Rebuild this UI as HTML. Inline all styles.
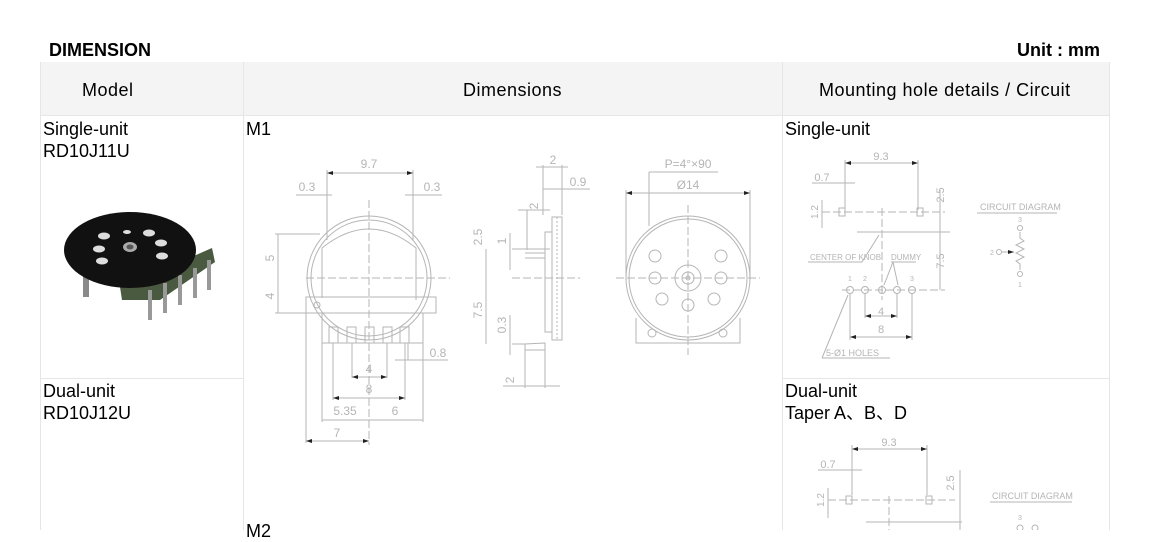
<!DOCTYPE html>
<html><head><meta charset="utf-8"><style>
body{margin:0;background:#fff;width:1150px;height:530px;overflow:hidden;position:relative;font-family:"Liberation Sans","Noto Sans CJK SC",sans-serif;}
.t{position:absolute;font-size:18px;color:#000;line-height:22px;}
.h{letter-spacing:0.5px;}
svg{position:absolute;left:0;top:0;}
</style></head><body>
<svg width="1150" height="530" viewBox="0 0 1150 530">
<defs><marker id="a" markerWidth="6" markerHeight="4" refX="6" refY="2" orient="auto-start-reverse"><path d="M0,0 L6,2 L0,4 Z" fill="#222"/></marker></defs>
<rect x="40" y="62" width="1069" height="53" fill="#f4f4f4"/>
<g stroke="#e6e6e6" stroke-width="1" fill="none">
<line x1="40.5" y1="62" x2="40.5" y2="530"/>
<line x1="243.5" y1="62" x2="243.5" y2="530"/>
<line x1="782.5" y1="62" x2="782.5" y2="530"/>
<line x1="1109.5" y1="62" x2="1109.5" y2="530"/>
<line x1="40" y1="115.5" x2="1109" y2="115.5"/>
<line x1="40" y1="378.5" x2="243" y2="378.5"/>
<line x1="782" y1="378.5" x2="1109" y2="378.5"/>
</g>
<g>
<rect x="83" y="265" width="6" height="32" fill="#8a8a8a"/>
<polygon points="120,287 180,262 212,248 215,262 160,300 122,300" fill="#4a5a40"/>
<g fill="#999">
<rect x="148" y="290" width="4" height="30"/><rect x="163" y="283" width="4" height="30"/><rect x="178" y="275" width="4" height="30"/><rect x="193" y="268" width="4" height="30"/><rect x="207" y="260" width="4" height="30"/>
</g>
<ellipse cx="130" cy="250" rx="66" ry="38" fill="#111"/>
<g fill="#ddd"><ellipse cx="104" cy="236" rx="6" ry="3.5"/><ellipse cx="149" cy="233" rx="6" ry="3.5"/><ellipse cx="99" cy="249" rx="6" ry="3.5"/><ellipse cx="161" cy="243" rx="6" ry="3.5"/><ellipse cx="102" cy="261" rx="6" ry="3.5"/><ellipse cx="162" cy="256" rx="6" ry="3.5"/><ellipse cx="127" cy="232" rx="4" ry="2"/></g>
<ellipse cx="130" cy="247" rx="7" ry="5" fill="#aaa"/><ellipse cx="130" cy="247" rx="3.5" ry="2.5" fill="#555"/>
</g>
<g stroke="#b5b5b5" stroke-width="1" fill="none">
<circle cx="369" cy="278" r="62"/>
<circle cx="369" cy="278" r="58"/>
<path d="M322,298 L322,248 Q369,210 416,248 L416,300"/>
<rect x="306" y="297" width="130" height="16"/>
<rect x="322" y="313" width="101" height="30"/>
<rect x="329" y="327" width="9" height="16"/><rect x="347" y="327" width="9" height="16"/><rect x="365" y="327" width="9" height="16"/><rect x="383" y="327" width="9" height="16"/><rect x="400" y="327" width="9" height="16"/>
<circle cx="317" cy="305" r="3"/>
<line x1="306" y1="278" x2="450" y2="278" stroke-dasharray="8,3"/>
<line x1="369" y1="200" x2="369" y2="445" stroke-dasharray="8,3"/>
<line x1="327" y1="170" x2="327" y2="240"/><line x1="413" y1="170" x2="413" y2="240"/>
<line x1="327" y1="173" x2="413" y2="173" marker-start="url(#a)" marker-end="url(#a)"/>
<line x1="296" y1="195" x2="332" y2="195"/><line x1="405" y1="195" x2="442" y2="195"/>
<line x1="275" y1="234" x2="320" y2="234"/><line x1="275" y1="313" x2="306" y2="313"/>
<line x1="278" y1="234" x2="278" y2="313"/>
<line x1="333" y1="343" x2="333" y2="400"/><line x1="352" y1="343" x2="352" y2="378"/><line x1="387" y1="343" x2="387" y2="378"/><line x1="405" y1="343" x2="405" y2="400"/>
<line x1="352" y1="377" x2="387" y2="377" marker-start="url(#a)" marker-end="url(#a)"/><line x1="333" y1="398" x2="405" y2="398" marker-start="url(#a)" marker-end="url(#a)"/>
<line x1="322" y1="343" x2="322" y2="422"/><line x1="423" y1="343" x2="423" y2="422"/><line x1="306" y1="313" x2="306" y2="443"/>
<line x1="322" y1="420" x2="423" y2="420"/><line x1="306" y1="441" x2="369" y2="441" marker-start="url(#a)" marker-end="url(#a)"/>
<line x1="395" y1="360" x2="448" y2="360"/><line x1="408" y1="343" x2="408" y2="360"/>
<rect x="552" y="217" width="10" height="123"/>
<line x1="557" y1="217" x2="557" y2="340" stroke-dasharray="2,2"/>
<rect x="545" y="232" width="7" height="100"/>
<path d="M545,343 L525,344 L525,350 L545,350 Z"/>
<line x1="525" y1="253" x2="545" y2="253"/><line x1="525" y1="258" x2="545" y2="258"/>
<line x1="512" y1="249" x2="550" y2="249"/><line x1="512" y1="278" x2="580" y2="278" stroke-dasharray="8,3"/>
<line x1="512" y1="344" x2="525" y2="344"/>
<line x1="486" y1="249" x2="486" y2="344"/>
<line x1="510" y1="233" x2="510" y2="270"/><line x1="510" y1="315" x2="510" y2="355"/>
<line x1="543" y1="165" x2="543" y2="215"/><line x1="562" y1="165" x2="562" y2="215"/><line x1="527" y1="210" x2="527" y2="250"/>
<line x1="536" y1="167" x2="568" y2="167"/><line x1="543" y1="189" x2="590" y2="189"/><line x1="518" y1="210" x2="550" y2="210"/>
<line x1="525" y1="350" x2="525" y2="388"/><line x1="545" y1="350" x2="545" y2="388"/><line x1="503" y1="386" x2="560" y2="386"/>
<circle cx="688" cy="278" r="62"/>
<circle cx="688" cy="278" r="59"/>
<circle cx="688" cy="278" r="13"/><circle cx="688" cy="278" r="6"/><circle cx="688" cy="278" r="2"/>
<circle cx="655" cy="256" r="6"/><circle cx="721" cy="256" r="6"/><circle cx="655" cy="278" r="6"/><circle cx="721" cy="278" r="6"/><circle cx="662" cy="299" r="6"/><circle cx="688" cy="305" r="6"/><circle cx="714" cy="299" r="6"/>
<path d="M636,318 L636,343 L740,343 L740,318"/>
<circle cx="652" cy="333" r="4"/><circle cx="723" cy="333" r="4"/>
<line x1="616" y1="278" x2="760" y2="278" stroke-dasharray="8,3"/>
<line x1="688" y1="205" x2="688" y2="355" stroke-dasharray="8,3"/>
<line x1="626" y1="190" x2="626" y2="280"/><line x1="750" y1="190" x2="750" y2="280"/>
<line x1="626" y1="193" x2="750" y2="193" marker-start="url(#a)" marker-end="url(#a)"/>
<line x1="649" y1="172" x2="718" y2="172"/><line x1="649" y1="172" x2="649" y2="226"/>
<line x1="845" y1="160" x2="845" y2="210"/><line x1="918" y1="160" x2="918" y2="210"/>
<line x1="845" y1="163" x2="918" y2="163" marker-start="url(#a)" marker-end="url(#a)"/><line x1="812" y1="183" x2="855" y2="183"/>
<rect x="839" y="208" width="6" height="8"/><rect x="917" y="208" width="6" height="8"/>
<line x1="822" y1="212" x2="945" y2="212" stroke-dasharray="8,3"/>
<line x1="822" y1="200" x2="822" y2="228"/>
<line x1="882" y1="208" x2="882" y2="300" stroke-dasharray="8,3"/>
<line x1="857" y1="232" x2="950" y2="232"/>
<line x1="940" y1="190" x2="940" y2="290"/>
<line x1="842" y1="290" x2="945" y2="290" stroke-dasharray="8,3"/>
<circle cx="850" cy="290" r="3.5"/><circle cx="865" cy="290" r="3.5"/><circle cx="882" cy="290" r="3.5"/><circle cx="897" cy="290" r="3.5"/><circle cx="912" cy="290" r="3.5"/>
<line x1="850" y1="294" x2="850" y2="340"/><line x1="865" y1="294" x2="865" y2="318"/><line x1="897" y1="294" x2="897" y2="318"/><line x1="912" y1="294" x2="912" y2="340"/>
<line x1="865" y1="316" x2="897" y2="316" marker-start="url(#a)" marker-end="url(#a)"/><line x1="850" y1="337" x2="912" y2="337" marker-start="url(#a)" marker-end="url(#a)"/>
<path d="M808,262 L862,262 L879,235"/><path d="M891,262 L916,262 M893,262 L884,285 M893,262 L898,285"/>
<path d="M822,358 L890,358 M822,358 L848,295"/>
<line x1="977" y1="213" x2="1057" y2="213"/>
<path d="M1020,232 L1020,238 L1024,241 L1016,245 L1024,249 L1016,253 L1024,257 L1016,261 L1020,264 L1020,270"/>
<circle cx="1020" cy="228" r="2.5"/><circle cx="1020" cy="274" r="2.5"/><circle cx="999" cy="252" r="2.5"/>
<line x1="1002" y1="252" x2="1014" y2="252" marker-end="url(#a)"/>
<line x1="852" y1="445" x2="852" y2="495"/><line x1="927" y1="445" x2="927" y2="495"/>
<line x1="852" y1="449" x2="927" y2="449" marker-start="url(#a)" marker-end="url(#a)"/><line x1="818" y1="470" x2="862" y2="470"/>
<rect x="846" y="496" width="6" height="8"/><rect x="926" y="496" width="6" height="8"/>
<line x1="828" y1="500" x2="955" y2="500" stroke-dasharray="8,3"/>
<line x1="828" y1="488" x2="828" y2="518"/>
<line x1="889" y1="496" x2="889" y2="530" stroke-dasharray="8,3"/>
<line x1="960" y1="470" x2="960" y2="530"/>
<line x1="866" y1="522" x2="962" y2="522"/>
<line x1="990" y1="502" x2="1072" y2="502"/>
<circle cx="1020" cy="528" r="3"/><circle cx="1035" cy="528" r="3"/>
</g>
<g fill="#b5b5b5" font-family="Liberation Sans, sans-serif" font-size="12">
<text x="369" y="168" text-anchor="middle">9.7</text>
<text x="307" y="191" text-anchor="middle">0.3</text><text x="432" y="191" text-anchor="middle">0.3</text>
<text x="274" y="258" transform="rotate(-90 274 258)" text-anchor="middle">5</text>
<text x="274" y="296" transform="rotate(-90 274 296)" text-anchor="middle">4</text>
<text x="438" y="357" text-anchor="middle">0.8</text>
<text x="369" y="373" text-anchor="middle">4</text><text x="369" y="393" text-anchor="middle">8</text>
<text x="345" y="415" text-anchor="middle">5.35</text><text x="395" y="415" text-anchor="middle">6</text>
<text x="337" y="437" text-anchor="middle">7</text>
<text x="553" y="164" text-anchor="middle">2</text><text x="578" y="186" text-anchor="middle">0.9</text>
<text x="538" y="206" transform="rotate(-90 538 206)" text-anchor="middle">2</text>
<text x="482" y="237" transform="rotate(-90 482 237)" text-anchor="middle">2.5</text>
<text x="506" y="241" transform="rotate(-90 506 241)" text-anchor="middle">1</text>
<text x="482" y="310" transform="rotate(-90 482 310)" text-anchor="middle">7.5</text>
<text x="506" y="325" transform="rotate(-90 506 325)" text-anchor="middle">0.3</text>
<text x="514" y="380" transform="rotate(-90 514 380)" text-anchor="middle">2</text>
<text x="688" y="168" text-anchor="middle">P=4°×90</text>
<text x="688" y="189" text-anchor="middle">Ø14</text>
<text x="881" y="160" text-anchor="middle" font-size="11">9.3</text>
<text x="822" y="181" text-anchor="middle" font-size="11">0.7</text>
<text x="818" y="212" transform="rotate(-90 818 212)" text-anchor="middle" font-size="10">1.2</text>
<text x="944" y="195" transform="rotate(-90 944 195)" text-anchor="middle" font-size="11">2.5</text>
<text x="944" y="261" transform="rotate(-90 944 261)" text-anchor="middle" font-size="11">7.5</text>
<text x="881" y="315" text-anchor="middle" font-size="11">4</text><text x="881" y="333" text-anchor="middle" font-size="11">8</text>
<text x="810" y="260" font-size="8">CENTER OF KNOB</text>
<text x="891" y="260" font-size="8">DUMMY</text>
<text x="850" y="281" text-anchor="middle" font-size="7">1</text><text x="865" y="281" text-anchor="middle" font-size="7">2</text><text x="912" y="281" text-anchor="middle" font-size="7">3</text>
<text x="826" y="356" font-size="9">5-Ø1 HOLES</text>
<text x="980" y="210" font-size="9">CIRCUIT DIAGRAM</text>
<text x="1020" y="222" text-anchor="middle" font-size="7">3</text><text x="1020" y="287" text-anchor="middle" font-size="7">1</text><text x="990" y="255" font-size="7">2</text>
<text x="889" y="446" text-anchor="middle" font-size="11">9.3</text>
<text x="828" y="468" text-anchor="middle" font-size="11">0.7</text>
<text x="824" y="500" transform="rotate(-90 824 500)" text-anchor="middle" font-size="10">1.2</text>
<text x="954" y="483" transform="rotate(-90 954 483)" text-anchor="middle" font-size="11">2.5</text>
<text x="992" y="499" font-size="9">CIRCUIT DIAGRAM</text>
<text x="1020" y="520" text-anchor="middle" font-size="7">3</text>
</g>
</svg>
<div class="t" style="left:49px;top:39px;font-weight:bold;">DIMENSION</div>
<div class="t" style="right:50px;top:39px;font-weight:bold;">Unit : mm</div>
<div class="t h" style="left:82px;top:79px;">Model</div>
<div class="t h" style="left:463px;top:79px;">Dimensions</div>
<div class="t h" style="left:819px;top:79px;">Mounting hole details / Circuit</div>
<div class="t" style="left:43px;top:118px;">Single-unit<br>RD10J11U</div>
<div class="t" style="left:43px;top:380px;">Dual-unit<br>RD10J12U</div>
<div class="t" style="left:246px;top:118px;">M1</div>
<div class="t" style="left:246px;top:520px;">M2</div>
<div class="t" style="left:785px;top:118px;">Single-unit</div>
<div class="t" style="left:785px;top:380px;">Dual-unit<br>Taper A、B、D</div>
</body></html>
